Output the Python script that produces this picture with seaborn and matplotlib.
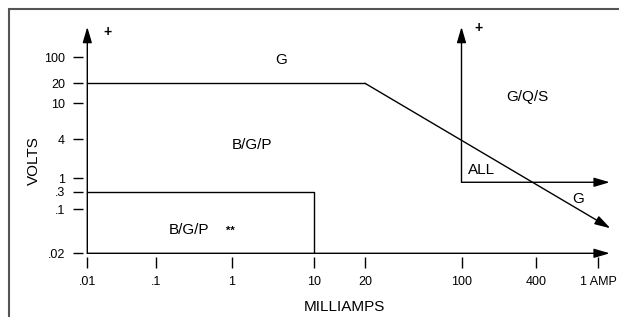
import numpy as np
import seaborn as sns
import matplotlib.pyplot as plt
from matplotlib.path import Path
from matplotlib.patches import Rectangle
from matplotlib import font_manager

# valeurs
x_tick_vals = [0.01, 0.1, 1, 10, 20, 100, 400, 1000]
x_tick_labels = ['.01', '.1', '1', '10', '20', '100', '400', '1 AMP']
y_tick_vals = [0.02, 0.1, 0.3, 1, 4, 10, 20, 100]
y_tick_labels = ['.02', '.1', '.3', '1', '4', '10', '20', '100']

# zone B/G/P (rectangle bas)
rect_ma = [0.01, 10, 10]
rect_v = [0.3, 0.3, 0.02]
# limite haute a 20 V puis pente
limit_ma = [0.01, 20]
limit_v = [20, 20]
slope_start = (20, 20)
slope_end = (1200, 0.05)
# zone ALL
all_ma = 100
all_v = 0.7

labels = [
    ('G', 4, 85), ('B/G/P', 1.75, 3.2), ('G/Q/S', 340, 12.5),
    ('ALL', 145, 1.35), ('G', 745, 0.19), ('B/G/P', 0.27, 0.047),
]

# echelle non reguliere (positions en pixels des graduations)
x_pos = [87.3, 156, 232, 314, 365, 461.5, 536, 598]
y_pos = [317 - p for p in [253.3, 209.3, 191.7, 178.3, 139, 103.3, 83.3, 57.3]]


def make_funcs(vals, pos):
    lv = np.log10(np.asarray(vals, float))
    pos = np.asarray(pos, float)
    s0 = (pos[1] - pos[0]) / (lv[1] - lv[0])
    s1 = (pos[-1] - pos[-2]) / (lv[-1] - lv[-2])

    def fwd(v):
        l = np.log10(np.clip(np.asarray(v, float), 1e-12, None))
        out = np.interp(l, lv, pos)
        out = np.where(l < lv[0], pos[0] + (l - lv[0]) * s0, out)
        out = np.where(l > lv[-1], pos[-1] + (l - lv[-1]) * s1, out)
        return out

    def inv(p):
        p = np.asarray(p, float)
        out = np.interp(p, pos, lv)
        out = np.where(p < pos[0], lv[0] + (p - pos[0]) / s0, out)
        out = np.where(p > pos[-1], lv[-1] + (p - pos[-1]) / s1, out)
        return 10 ** out

    return fwd, inv


sns.set_style("white")
names = {f.name for f in font_manager.fontManager.ttflist}
narrow = 'Liberation Sans Narrow' if 'Liberation Sans Narrow' in names else 'Liberation Sans'
plt.rcParams['font.family'] = ['Liberation Sans', 'DejaVu Sans']
plt.rcParams['text.color'] = 'black'

fig = plt.figure(figsize=(6.19, 3.17), dpi=100)
ax = fig.add_axes([0, 0, 1, 1])
ax.patch.set_alpha(0)

fx, ix = make_funcs(x_tick_vals, x_pos)
fy, iy = make_funcs(y_tick_vals, y_pos)
ax.set_xscale('function', functions=(fx, ix))
ax.set_yscale('function', functions=(fy, iy))
ax.set_xlim(ix(0), ix(619))
ax.set_ylim(iy(0), iy(317))

for s in ax.spines.values():
    s.set_visible(False)
ax.spines['left'].set_position(('data', x_tick_vals[0]))
ax.spines['bottom'].set_position(('data', y_tick_vals[0]))
ax.set_xticks(x_tick_vals, x_tick_labels, fontsize=9, family=narrow)
ax.set_yticks(y_tick_vals, y_tick_labels, fontsize=9, family=narrow)
ax.minorticks_off()
ax.tick_params(axis='x', length=0, pad=16, labelcolor='black')
ax.tick_params(axis='y', length=0, pad=16, labelcolor='black')

# petites graduations decalees de l'axe
ymark = Path([[-1, 0], [-0.29, 0]])
xmark = Path([[0, -0.27], [0, -1]])
ax.plot([x_tick_vals[0]] * len(y_tick_vals), y_tick_vals, ls='none', marker=ymark,
        ms=20, mew=1, color='black', clip_on=False)
ax.plot(x_tick_vals, [y_tick_vals[0]] * len(x_tick_vals), ls='none', marker=xmark,
        ms=21.6, mew=1, color='black', clip_on=False)

lw = 1.0
sns.lineplot(x=rect_ma, y=rect_v, sort=False, estimator=None, color='black', lw=lw, ax=ax)
sns.lineplot(x=limit_ma, y=limit_v, sort=False, estimator=None, color='black', lw=lw, ax=ax)

arrow = dict(arrowstyle='-|>,head_length=0.95,head_width=0.28', mutation_scale=10,
             color='black', lw=lw, shrinkA=0, shrinkB=0)
xt = ax.get_xaxis_transform()
yt = ax.get_yaxis_transform()
# axes
ax.annotate('', xy=(x_tick_vals[0], 0.915), xycoords=xt,
            xytext=(x_tick_vals[0], y_tick_vals[0]), textcoords='data', arrowprops=arrow)
ax.annotate('', xy=(0.985, y_tick_vals[0]), xycoords=yt,
            xytext=(x_tick_vals[0], y_tick_vals[0]), textcoords='data', arrowprops=arrow)
# zone ALL
ax.annotate('', xy=(all_ma, 0.915), xycoords=xt,
            xytext=(all_ma, all_v), textcoords='data', arrowprops=arrow)
ax.annotate('', xy=(0.985, all_v), xycoords=yt,
            xytext=(all_ma, all_v), textcoords='data', arrowprops=arrow)
# pente
ax.annotate('', xy=slope_end, xytext=slope_start, arrowprops=arrow)

ax.text(0.02, 0.90, '+', transform=xt, ha='center', va='center', fontsize=10, fontweight='bold')
ax.text(138, 0.912, '+', transform=xt, ha='center', va='center', fontsize=10, fontweight='bold')

for txt, mx, vy in labels:
    ax.text(mx, vy, txt, ha='center', va='center', fontsize=11)
ax.text(0.95, 0.045, '**', ha='center', va='center', fontsize=8, fontweight='bold')

fig.text(344 / 619, 1 - 307 / 317, 'MILLIAMPS', ha='center', va='center', fontsize=11)
fig.text(34 / 619, 1 - 161 / 317, 'VOLTS', ha='center', va='center', fontsize=11, rotation=90)

# cadre
fig.add_artist(Rectangle((9 / 619, -0.2), 1.2, 1.2 - 9 / 317, transform=fig.transFigure,
                         fill=False, ec='#555555', lw=1.5))

fig.savefig('out.png', dpi=100)
